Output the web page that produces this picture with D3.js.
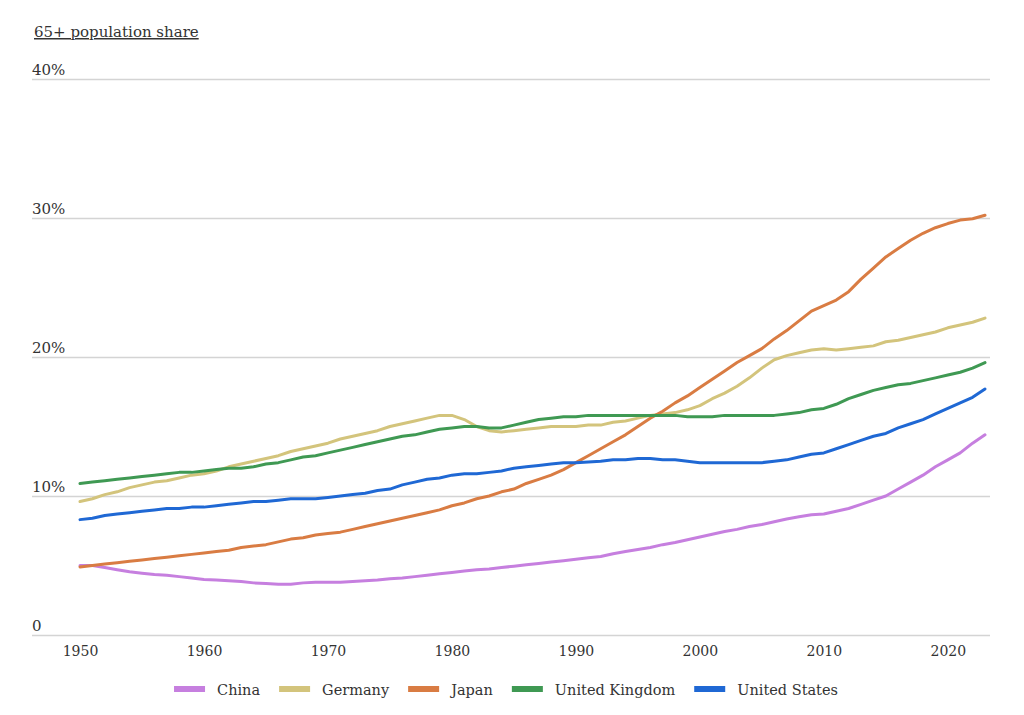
<!DOCTYPE html>
<meta charset="utf-8">
<style>
body { margin: 0; background: #fff; }
text { font-family: "DejaVu Serif", "Liberation Serif", serif; fill: #333; }
.grid line { stroke: #d4d4d4; stroke-width: 1.3; }
.series { fill: none; stroke-width: 3; stroke-linejoin: round; stroke-linecap: round; }
</style>
<svg width="1024" height="715"></svg>
<script src="https://d3js.org/d3.v7.min.js"></script>
<script>

var years = d3.range(1950, 2024);

var names = ["China", "Germany", "Japan", "United Kingdom", "United States"];
var colors = ["#c67fdf", "#d3c47c", "#d97c43", "#3f9953", "#1f68d4"];

var china = [5.0, 5.0, 4.85, 4.7, 4.55, 4.45, 4.35, 4.3, 4.2, 4.1,
  4.0, 3.95, 3.9, 3.85, 3.75, 3.7, 3.65, 3.65, 3.75, 3.8,
  3.8, 3.8, 3.85, 3.9, 3.95, 4.05, 4.1, 4.2, 4.3, 4.4,
  4.5, 4.6, 4.7, 4.75, 4.85, 4.95, 5.05, 5.15, 5.25, 5.35,
  5.45, 5.55, 5.65, 5.85, 6.0, 6.15, 6.3, 6.5, 6.65, 6.85,
  7.05, 7.25, 7.45, 7.6, 7.8, 7.95, 8.15, 8.35, 8.5, 8.65,
  8.7, 8.9, 9.1, 9.4, 9.7, 10.0, 10.5, 11.0, 11.5, 12.1,
  12.6, 13.1, 13.8, 14.4];

var germany = [9.6, 9.8, 10.1, 10.3, 10.6, 10.8, 11.0, 11.1, 11.3, 11.5,
  11.6, 11.8, 12.1, 12.3, 12.5, 12.7, 12.9, 13.2, 13.4, 13.6,
  13.8, 14.1, 14.3, 14.5, 14.7, 15.0, 15.2, 15.4, 15.6, 15.8,
  15.8, 15.5, 15.0, 14.7, 14.6, 14.7, 14.8, 14.9, 15.0, 15.0,
  15.0, 15.1, 15.1, 15.3, 15.4, 15.6, 15.8, 15.9, 16.0, 16.2,
  16.5, 17.0, 17.4, 17.9, 18.5, 19.2, 19.8, 20.1, 20.3, 20.5,
  20.6, 20.5, 20.6, 20.7, 20.8, 21.1, 21.2, 21.4, 21.6, 21.8,
  22.1, 22.3, 22.5, 22.8];

var japan = [4.9, 5.0, 5.1, 5.2, 5.3, 5.4, 5.5, 5.6, 5.7, 5.8,
  5.9, 6.0, 6.1, 6.3, 6.4, 6.5, 6.7, 6.9, 7.0, 7.2,
  7.3, 7.4, 7.6, 7.8, 8.0, 8.2, 8.4, 8.6, 8.8, 9.0,
  9.3, 9.5, 9.8, 10.0, 10.3, 10.5, 10.9, 11.2, 11.5, 11.9,
  12.4, 12.9, 13.4, 13.9, 14.4, 15.0, 15.6, 16.1, 16.7, 17.2,
  17.8, 18.4, 19.0, 19.6, 20.1, 20.6, 21.3, 21.9, 22.6, 23.3,
  23.7, 24.1, 24.7, 25.6, 26.4, 27.2, 27.8, 28.4, 28.9, 29.3,
  29.6, 29.85, 29.95, 30.2];

var uk = [10.9, 11.0, 11.1, 11.2, 11.3, 11.4, 11.5, 11.6, 11.7, 11.7,
  11.8, 11.9, 12.0, 12.0, 12.1, 12.3, 12.4, 12.6, 12.8, 12.9,
  13.1, 13.3, 13.5, 13.7, 13.9, 14.1, 14.3, 14.4, 14.6, 14.8,
  14.9, 15.0, 15.0, 14.9, 14.9, 15.1, 15.3, 15.5, 15.6, 15.7,
  15.7, 15.8, 15.8, 15.8, 15.8, 15.8, 15.8, 15.8, 15.8, 15.7,
  15.7, 15.7, 15.8, 15.8, 15.8, 15.8, 15.8, 15.9, 16.0, 16.2,
  16.3, 16.6, 17.0, 17.3, 17.6, 17.8, 18.0, 18.1, 18.3, 18.5,
  18.7, 18.9, 19.2, 19.6];

var us = [8.3, 8.4, 8.6, 8.7, 8.8, 8.9, 9.0, 9.1, 9.1, 9.2,
  9.2, 9.3, 9.4, 9.5, 9.6, 9.6, 9.7, 9.8, 9.8, 9.8,
  9.9, 10.0, 10.1, 10.2, 10.4, 10.5, 10.8, 11.0, 11.2, 11.3,
  11.5, 11.6, 11.6, 11.7, 11.8, 12.0, 12.1, 12.2, 12.3, 12.4,
  12.4, 12.45, 12.5, 12.6, 12.6, 12.7, 12.7, 12.6, 12.6, 12.5,
  12.4, 12.4, 12.4, 12.4, 12.4, 12.4, 12.5, 12.6, 12.8, 13.0,
  13.1, 13.4, 13.7, 14.0, 14.3, 14.5, 14.9, 15.2, 15.5, 15.9,
  16.3, 16.7, 17.1, 17.7];

var yTicks = [0, 10, 20, 30, 40];
var yTickLabels = ["0", "10%", "20%", "30%", "40%"];
var xTicks = [1950, 1960, 1970, 1980, 1990, 2000, 2010, 2020];

var svg = d3.select("svg");

var x = d3.scaleLinear()
    .domain([1950, 2023])
    .range([80, 985]);

var y = d3.scaleLinear()
    .domain([0, 40])
    .range([635, 79]);

// title
svg.append("text")
    .attr("x", 34)
    .attr("y", 37)
    .style("font-size", "15px")
    .style("text-decoration", "underline")
    .text("65+ population share");

// horizontal grid with labels sitting on top of the lines
var grid = svg.append("g").attr("class", "grid");

grid.selectAll("line")
  .data(yTicks)
  .enter().append("line")
    .attr("x1", 32)
    .attr("x2", 990)
    .attr("y1", function(d) { return Math.round(y(d)) + 0.5; })
    .attr("y2", function(d) { return Math.round(y(d)) + 0.5; });

grid.selectAll("text")
  .data(yTicks)
  .enter().append("text")
    .attr("x", 32)
    .attr("y", function(d) { return y(d) - 4; })
    .style("font-size", "15px")
    .text(function(d, i) { return yTickLabels[i]; });

// x axis labels
var xAxis = svg.append("g")
    .attr("transform", "translate(0,635)")
    .call(d3.axisBottom(x).tickValues(xTicks).tickFormat(d3.format("d")).tickSize(0).tickPadding(11));

xAxis.select(".domain").remove();
xAxis.selectAll("text")
    .style("font-size", "14px")
    .style("font-family", "\"DejaVu Serif\", serif")
    .attr("fill", "#333");

// lines
var series = [china, germany, japan, uk, us];

var line = d3.line()
    .x(function(d, i) { return x(years[i]); })
    .y(function(d) { return y(d); });

svg.append("g")
  .selectAll("path")
  .data(series)
  .enter().append("path")
    .attr("class", "series")
    .attr("stroke", function(d, i) { return colors[i]; })
    .attr("d", line);

// legend, centred under the plot
var legend = svg.append("g");

var item = legend.selectAll("g")
  .data(names)
  .enter().append("g");

item.append("rect")
    .attr("width", 31)
    .attr("height", 6)
    .attr("y", -3)
    .attr("fill", function(d, i) { return colors[i]; });

item.append("text")
    .attr("x", 43)
    .attr("y", 5.5)
    .style("font-size", "14.5px")
    .text(function(d) { return d; });

var offset = 0;
item.each(function() {
  var g = d3.select(this),
      w = 43 + g.select("text").node().getComputedTextLength();
  g.attr("transform", "translate(" + offset + ",0)");
  offset += w + 19;
});
offset -= 19;

legend.attr("transform", "translate(" + (506 - offset / 2) + ",689)");

</script>
